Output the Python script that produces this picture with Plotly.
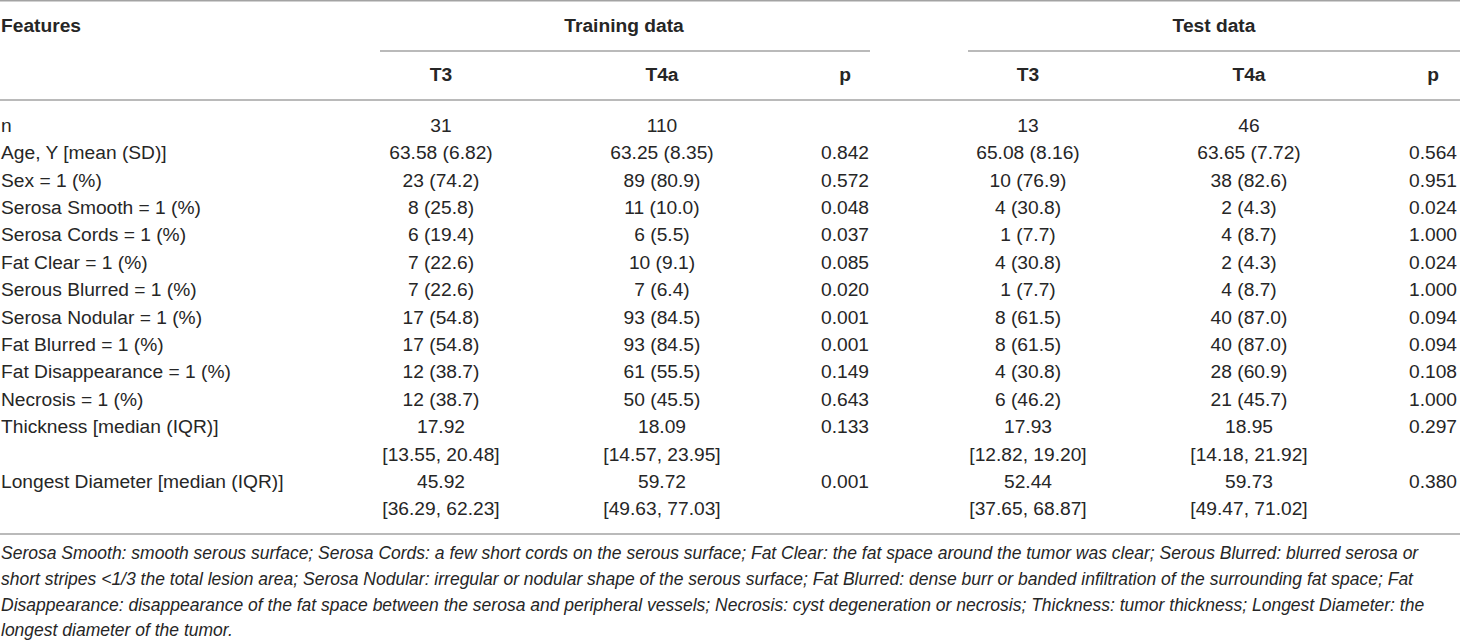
import plotly.graph_objects as go

# --- table content ---
features = ["n", "Age, Y [mean (SD)]", "Sex = 1 (%)", "Serosa Smooth = 1 (%)",
            "Serosa Cords = 1 (%)", "Fat Clear = 1 (%)", "Serous Blurred = 1 (%)",
            "Serosa Nodular = 1 (%)", "Fat Blurred = 1 (%)", "Fat Disappearance = 1 (%)",
            "Necrosis = 1 (%)", "Thickness [median (IQR)]", "Longest Diameter [median (IQR)]"]

train_t3 = ["31", "63.58 (6.82)", "23 (74.2)", "8 (25.8)", "6 (19.4)", "7 (22.6)", "7 (22.6)",
            "17 (54.8)", "17 (54.8)", "12 (38.7)", "12 (38.7)", "17.92", "45.92"]
train_t3_iqr = [""] * 11 + ["[13.55, 20.48]", "[36.29, 62.23]"]
train_t4a = ["110", "63.25 (8.35)", "89 (80.9)", "11 (10.0)", "6 (5.5)", "10 (9.1)", "7 (6.4)",
             "93 (84.5)", "93 (84.5)", "61 (55.5)", "50 (45.5)", "18.09", "59.72"]
train_t4a_iqr = [""] * 11 + ["[14.57, 23.95]", "[49.63, 77.03]"]
train_p = ["", "0.842", "0.572", "0.048", "0.037", "0.085", "0.020", "0.001", "0.001",
           "0.149", "0.643", "0.133", "0.001"]

test_t3 = ["13", "65.08 (8.16)", "10 (76.9)", "4 (30.8)", "1 (7.7)", "4 (30.8)", "1 (7.7)",
           "8 (61.5)", "8 (61.5)", "4 (30.8)", "6 (46.2)", "17.93", "52.44"]
test_t3_iqr = [""] * 11 + ["[12.82, 19.20]", "[37.65, 68.87]"]
test_t4a = ["46", "63.65 (7.72)", "38 (82.6)", "2 (4.3)", "4 (8.7)", "2 (4.3)", "4 (8.7)",
            "40 (87.0)", "40 (87.0)", "28 (60.9)", "21 (45.7)", "18.95", "59.73"]
test_t4a_iqr = [""] * 11 + ["[14.18, 21.92]", "[49.47, 71.02]"]
test_p = ["", "0.564", "0.951", "0.024", "1.000", "0.024", "1.000", "0.094", "0.094",
          "0.108", "1.000", "0.297", "0.380"]

group_labels = ["Training data", "Test data"]
sub_labels = ["T3", "T4a", "p"]

footnote = [
    "Serosa Smooth: smooth serous surface; Serosa Cords: a few short cords on the serous surface; "
    "Fat Clear: the fat space around the tumor was clear; Serous Blurred: blurred serosa or",
    "short stripes &lt;1/3 the total lesion area; Serosa Nodular: irregular or nodular shape of the "
    "serous surface; Fat Blurred: dense burr or banded infiltration of the surrounding fat space; Fat",
    "Disappearance: disappearance of the fat space between the serosa and peripheral vessels; "
    "Necrosis: cyst degeneration or necrosis; Thickness: tumor thickness; Longest Diameter: the",
    "longest diameter of the tumor.",
]

# --- layout constants (pixel axes) ---
W, H = 1460, 643
FONT = "Liberation Sans, Arial, Helvetica, sans-serif"
TXT = "#262626"
RULE = "#a3a3a3"
col_x = [441, 662, 845, 1028, 1249, 1433]
group_x = [624, 1214]
group_span = [(380, 870), (968, 1460)]

Y_HEAD1, Y_RULE1, Y_HEAD2, Y_RULE2 = 27, 51, 76, 100
ROW0, ROW_H = 127, 27.4
Y_BOTTOM = 534
FOOT0, FOOT_H = 555, 25.7

# row slots: one line per feature, two when an IQR line follows
slot = []
k = 0
for i in range(len(features)):
    slot.append(k)
    k += 2 if train_t3_iqr[i] else 1
row_y = [ROW0 + ROW_H * s for s in slot]

fig = go.Figure()

def add_text(xs, ys, texts, bold=False, italic=False, pos="middle center", size=19.2):
    t = [f"<b>{s}</b>" if bold and s else s for s in texts]
    t = [f"<i>{s}</i>" if italic and s else s for s in t]
    fig.add_trace(go.Scatter(x=xs, y=ys, text=t, mode="text", textposition=pos,
                             textfont=dict(family=FONT, size=size, color=TXT),
                             hoverinfo="skip", showlegend=False))

# header
add_text([1], [Y_HEAD1], ["Features"], bold=True, pos="middle right")
add_text(group_x, [Y_HEAD1] * 2, group_labels, bold=True)
add_text(col_x, [Y_HEAD2] * 6, sub_labels * 2, bold=True)

# body
add_text([1] * len(features), row_y, features, pos="middle right")
columns = [(train_t3, train_t3_iqr), (train_t4a, train_t4a_iqr), (train_p, None),
           (test_t3, test_t3_iqr), (test_t4a, test_t4a_iqr), (test_p, None)]
for cx, (vals, iqr) in zip(col_x, columns):
    add_text([cx] * len(vals), row_y, vals)
    if iqr:
        idx = [i for i, s in enumerate(iqr) if s]
        add_text([cx] * len(idx), [row_y[i] + ROW_H for i in idx], [iqr[i] for i in idx])

# footnote
add_text([1] * len(footnote), [FOOT0 + FOOT_H * i for i in range(len(footnote))], footnote,
         italic=True, pos="middle right", size=17.5)

# rules
rules = [
    (0, W, 0.8), (group_span[0][0], group_span[0][1], Y_RULE1),
    (group_span[1][0], group_span[1][1], Y_RULE1), (0, W, Y_RULE2), (0, W, Y_BOTTOM),
]
for x0, x1, y in rules:
    fig.add_shape(type="line", xref="x", yref="y", x0=x0, x1=x1, y0=y, y1=y,
                  line=dict(color=RULE, width=1.6))

fig.update_layout(
    width=W, height=H,
    margin=dict(l=0, r=0, t=0, b=0),
    plot_bgcolor="white", paper_bgcolor="white",
    xaxis=dict(range=[0, W], visible=False, fixedrange=True),
    yaxis=dict(range=[H, 0], visible=False, fixedrange=True),
)

fig.write_html("out.html", config={"displayModeBar": False},
               post_script="document.body.style.margin='0';document.body.style.overflow='hidden';")
